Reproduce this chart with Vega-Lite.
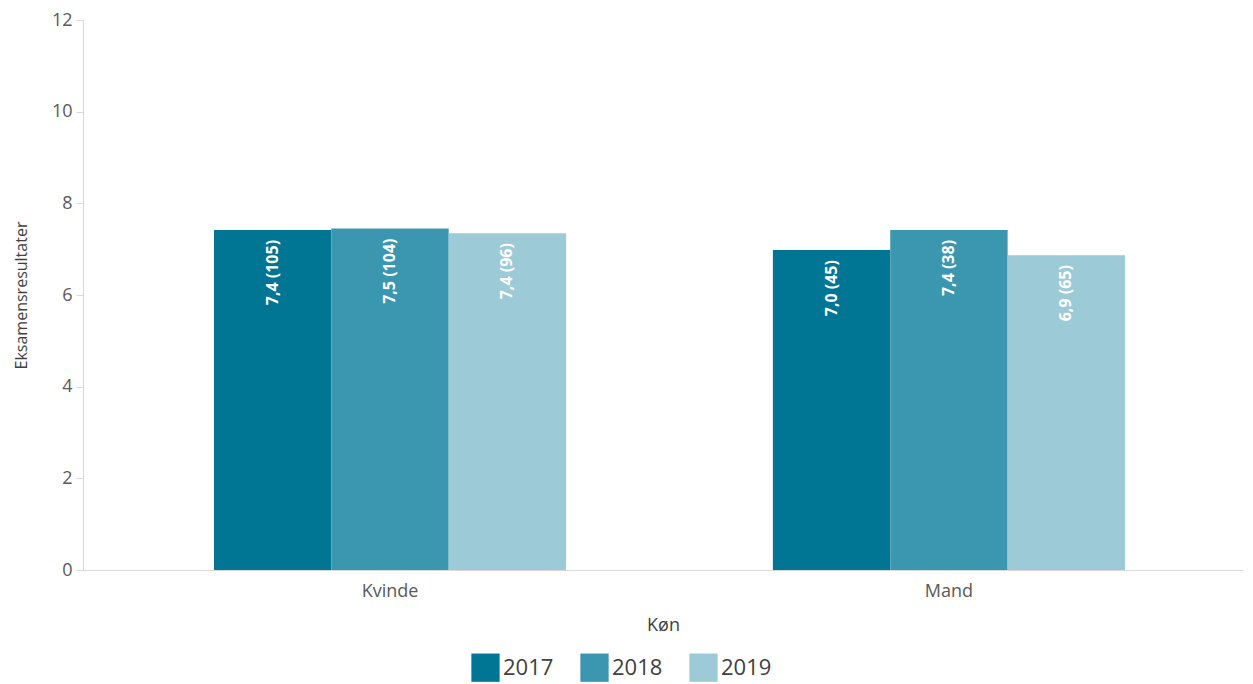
{
  "$schema": "https://vega.github.io/schema/vega-lite/v6.json",
  "width": 1160,
  "height": 550,
  "autosize": {"type": "none"},
  "padding": {"left": 83, "top": 20, "right": 10, "bottom": 114},
  "background": "white",
  "config": {
    "font": "Open Sans",
    "view": {"stroke": null},
    "axis": {"grid": false, "domainColor": "#d9d9d9", "tickColor": "#d9d9d9", "labelColor": "#595959", "titleColor": "#404040", "titleFontWeight": "normal"}
  },
  "data": {
    "values": [
      {"kon": "Kvinde", "year": "2017", "value": 7.42, "label": "7,4 (105)"},
      {"kon": "Kvinde", "year": "2018", "value": 7.45, "label": "7,5 (104)"},
      {"kon": "Kvinde", "year": "2019", "value": 7.35, "label": "7,4 (96)"},
      {"kon": "Mand", "year": "2017", "value": 6.98, "label": "7,0 (45)"},
      {"kon": "Mand", "year": "2018", "value": 7.42, "label": "7,4 (38)"},
      {"kon": "Mand", "year": "2019", "value": 6.87, "label": "6,9 (65)"}
    ]
  },
  "encoding": {
    "x": {
      "field": "kon", "type": "nominal",
      "scale": {"paddingInner": 0.37, "paddingOuter": 0.2227, "align": 0.526},
      "axis": {"title": "Køn", "labelAngle": 0, "labelFontSize": 18, "titleFontSize": 18, "ticks": false, "labelPadding": 12, "titlePadding": 16}
    },
    "xOffset": {"field": "year", "type": "nominal", "scale": {"paddingInner": 0, "paddingOuter": 0}},
    "y": {
      "field": "value", "type": "quantitative",
      "scale": {"domain": [0, 12]},
      "axis": {"title": "Eksamensresultater", "values": [0, 2, 4, 6, 8, 10, 12], "labelFontSize": 18, "titleFontSize": 16, "tickSize": 7, "labelPadding": 4, "titlePadding": 22}
    }
  },
  "layer": [
    {
      "mark": {"type": "bar"},
      "encoding": {
        "color": {
          "field": "year", "type": "nominal",
          "scale": {"domain": ["2017", "2018", "2019"], "range": ["#007694", "#3b97af", "#9dcad7"]},
          "legend": {
            "title": null, "orient": "none", "direction": "horizontal",
            "legendX": 388, "legendY": 633,
            "symbolType": "square", "symbolSize": 800, "symbolStrokeWidth": 0, "symbolOpacity": 1,
            "labelFontSize": 22, "labelColor": "#404040", "labelOffset": 3, "columnPadding": 26
          }
        }
      }
    },
    {
      "mark": {"type": "text", "angle": 270, "align": "right", "baseline": "middle", "dx": -10, "color": "white", "fontWeight": "bold", "fontSize": 16},
      "encoding": {"text": {"field": "label"}}
    }
  ]
}
